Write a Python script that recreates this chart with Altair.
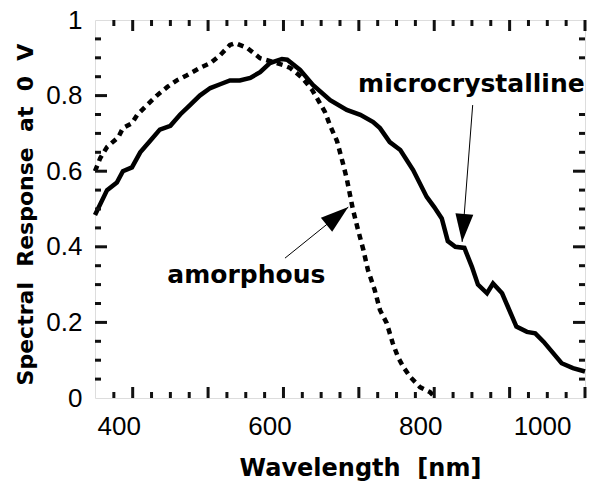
import altair as alt
import pandas as pd

# ---- data ----
wl_micro = [350, 366, 379, 387, 399, 410, 423, 436, 450, 463, 476, 489, 503, 516, 529, 542,
            556, 569, 582, 598, 605, 622, 639, 662, 684, 702, 719, 728, 741, 755, 772, 790,
            800, 810, 818, 828, 840, 850, 858, 870, 878, 890, 909, 923, 934, 945, 969, 984, 1000]
sr_micro = [0.484, 0.55, 0.57, 0.60, 0.61, 0.65, 0.68, 0.71, 0.72, 0.75, 0.775, 0.80, 0.82, 0.83,
            0.84, 0.84, 0.847, 0.862, 0.886, 0.897, 0.895, 0.868, 0.828, 0.788, 0.762, 0.749,
            0.73, 0.714, 0.677, 0.656, 0.603, 0.532, 0.505, 0.475, 0.415, 0.40, 0.397, 0.347,
            0.30, 0.277, 0.303, 0.277, 0.189, 0.175, 0.171, 0.149, 0.092, 0.079, 0.07]

wl_amor = [350, 357, 366, 381, 387, 399, 406, 419, 432, 446, 459, 472, 489, 503, 516, 529, 536,
           552, 569, 586, 599, 609, 625, 638, 646, 655, 662, 671, 679, 684, 688, 692, 698, 706,
           712, 721, 728, 737, 745, 752, 759, 768, 781, 794, 798]
sr_amor = [0.60, 0.635, 0.664, 0.69, 0.714, 0.727, 0.749, 0.775, 0.80, 0.823, 0.841, 0.854,
           0.873, 0.886, 0.907, 0.934, 0.939, 0.926, 0.899, 0.889, 0.881, 0.873, 0.847, 0.815,
           0.788, 0.757, 0.72, 0.68, 0.62, 0.58, 0.54, 0.50, 0.452, 0.392, 0.339, 0.286, 0.233,
           0.198, 0.145, 0.108, 0.082, 0.056, 0.029, 0.016, 0.008]

x_labels = [400, 600, 800, 1000]
y_labels = [0, 0.2, 0.4, 0.6, 0.8, 1.0]
x_major = [400, 500, 600, 700, 800, 900, 1000]
x_minor = [375, 425, 450, 475, 525, 550, 575, 625, 650, 675, 725, 750, 775,
           825, 850, 875, 925, 950, 975]
y_major = [0.2, 0.4, 0.6, 0.8]
y_minor = [0.05, 0.1, 0.15, 0.25, 0.3, 0.35, 0.45, 0.5, 0.55, 0.65, 0.7, 0.75, 0.85, 0.9, 0.95]
y_major_right = [0.2, 0.4, 0.6]
y_minor_right = [0.05, 0.1, 0.15, 0.25, 0.3, 0.35, 0.45, 0.5, 0.55, 0.65, 0.7, 0.75, 0.9, 0.95]

NB = "\u00a0"
x_title = "Wavelength" + NB * 2 + "[nm]"
y_title = NB.join(["Spectral", "", "Response", "", "at", "", "0", "", "V"])

labels_text = ["microcrystalline", "amorphous"]
labels_x = [699, 446]
labels_y = [0.81, 0.304]

arrow_x = [851, 602]
arrow_y = [0.775, 0.370]
arrow_x2 = [837, 686]
arrow_y2 = [0.413, 0.505]
arrow_angle = [184.6, 51]

W, H = 490, 378
X0, X1 = 350, 1000
xs = alt.Scale(domain=[X0, X1], nice=False, zero=False)
ys = alt.Scale(domain=[0, 1], nice=False)
px_x = (X1 - X0) / W   # nm per pixel
px_y = 1.0 / H         # units per pixel

micro = pd.DataFrame({"wl": wl_micro, "sr": sr_micro})
amor = pd.DataFrame({"wl": wl_amor, "sr": sr_amor})

x_enc = alt.X("wl:Q", scale=xs, axis=alt.Axis(
    values=x_labels, format="d", title=x_title, grid=False, domain=False, ticks=False,
    tickSize=0, labelPadding=15, labelOffset=-14, labelFont="Liberation Sans", labelFontSize=26,
    labelColor="black", titleFont="DejaVu Sans", titleFontWeight="bold", titleFontSize=24,
    titleColor="black", titleX=265, titleY=77, titleBaseline="alphabetic", titleAnchor="middle"))
y_enc = alt.Y("sr:Q", scale=ys, axis=alt.Axis(
    values=y_labels, title=y_title, grid=False, domain=False, ticks=False,
    tickSize=0, labelPadding=13, format=".1~f", labelFont="Liberation Sans", labelFontSize=26,
    labelColor="black", titleFont="DejaVu Sans", titleFontWeight="bold", titleFontSize=22,
    titleColor="black", titleX=-63, titleY=194, titleAngle=-90, titleBaseline="alphabetic",
    titleAlign="center"))

line_micro = alt.Chart(micro).mark_line(color="black", strokeWidth=4.5).encode(x=x_enc, y=y_enc)
line_amor = alt.Chart(amor).mark_line(color="black", strokeWidth=4.5, strokeDash=[6, 5]).encode(
    x=alt.X("wl:Q", scale=xs), y=alt.Y("sr:Q", scale=ys))

tick_frames = []
for vals, length, top in [(x_major, 11, False), (x_minor, 6, False),
                          (x_major, 11, True), (x_minor, 6, True)]:
    a, b = (1.0, 1.0 - length * px_y) if top else (0.0, length * px_y)
    tick_frames.append(pd.DataFrame({"wl": vals, "wl2": vals, "sr": [a] * len(vals),
                                     "sr2": [b] * len(vals)}))
xticks = pd.concat(tick_frames, ignore_index=True)

tick_frames = []
for vals, length, right in [(y_major, 12, False), (y_minor, 6, False),
                            (y_major_right, 12, True), (y_minor_right, 6, True)]:
    a, b = (X1, X1 - length * px_x) if right else (X0, X0 + length * px_x)
    tick_frames.append(pd.DataFrame({"sr": vals, "sr2": vals, "wl": [a] * len(vals),
                                     "wl2": [b] * len(vals)}))
yticks = pd.concat(tick_frames, ignore_index=True)

xtick_layer = alt.Chart(xticks).mark_rule(color="#111111", strokeWidth=3).encode(
    x=alt.X("wl:Q", scale=xs), y=alt.Y("sr:Q", scale=ys), x2="wl2:Q", y2="sr2:Q")
ytick_layer = alt.Chart(yticks).mark_rule(color="#111111", strokeWidth=3).encode(
    x=alt.X("wl:Q", scale=xs), y=alt.Y("sr:Q", scale=ys), x2="wl2:Q", y2="sr2:Q")

lab = pd.DataFrame({"t": labels_text, "wl": labels_x, "sr": labels_y})
texts = alt.Chart(lab).mark_text(align="left", baseline="alphabetic", font="DejaVu Sans",
                                 fontWeight="bold", fontSize=25, color="black").encode(
    x=alt.X("wl:Q", scale=xs), y=alt.Y("sr:Q", scale=ys), text="t:N")

arr = pd.DataFrame({"wl": arrow_x, "sr": arrow_y, "wl2": arrow_x2, "sr2": arrow_y2,
                    "ang": arrow_angle})
arrow_lines = alt.Chart(arr).mark_rule(color="black", strokeWidth=1).encode(
    x=alt.X("wl:Q", scale=xs), y=alt.Y("sr:Q", scale=ys), x2="wl2:Q", y2="sr2:Q")
arrow_heads = alt.Chart(arr).mark_point(
    shape="M0,0L-0.64,2L0.64,2Z", filled=True, color="black", opacity=1, size=784,
    strokeWidth=0).encode(
    x=alt.X("wl2:Q", scale=xs), y=alt.Y("sr2:Q", scale=ys),
    angle=alt.Angle("ang:Q", scale=None))

chart = alt.layer(line_micro, line_amor, ytick_layer, arrow_lines, arrow_heads,
                  texts, xtick_layer).properties(
    width=W, height=H,
    autosize=alt.AutoSizeParams(type="none"),
    padding={"left": 95, "top": 20, "right": 20, "bottom": 83},
).configure_view(stroke="black", strokeWidth=3).configure(background="white")

chart.save("out.html", embed_options={"renderer": "svg", "actions": False})
